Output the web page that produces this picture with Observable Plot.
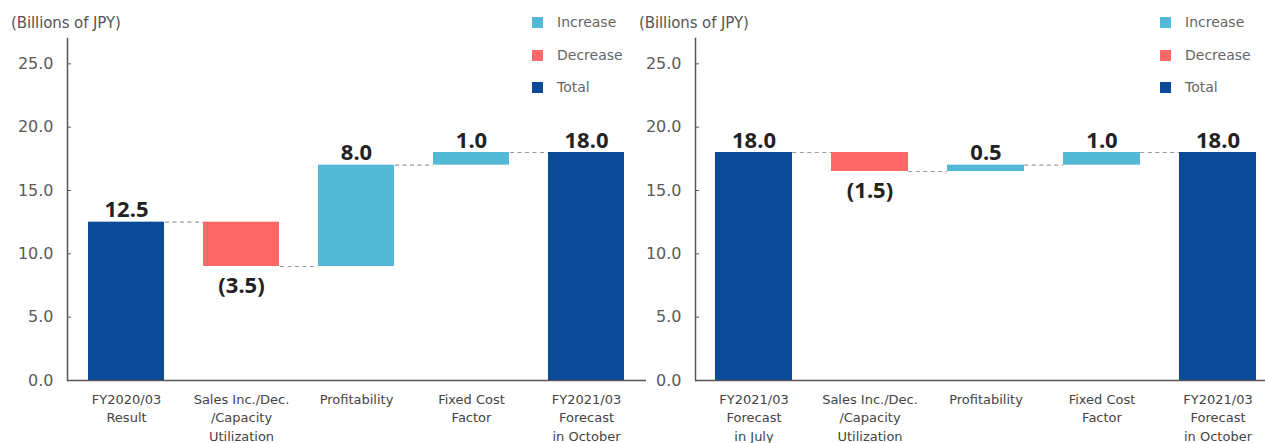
<!DOCTYPE html>
<html>
<head>
<meta charset="utf-8">
<script src="https://cdn.jsdelivr.net/npm/d3@7"></script>
<script src="https://cdn.jsdelivr.net/npm/@observablehq/plot@0.6"></script>
<style>
  html, body { margin: 0; padding: 0; background: #fff; }
  #stage { position: relative; width: 1265px; height: 443px; overflow: hidden; }
  .chart { position: absolute; top: 0; height: 443px; }
  .unit { position: absolute; top: 14px; font: 15px "DejaVu Sans", sans-serif; color: #555; white-space: nowrap; letter-spacing: -0.1px; }
  .legend { position: absolute; top: 0; font: 14px "DejaVu Sans", sans-serif; color: #666; }
  .legend .item { position: absolute; left: 0; display: flex; align-items: center; height: 16px; white-space: nowrap; }
  .legend .sw { width: 11px; height: 11px; margin-right: 14px; }
</style>
</head>
<body>
<div id="stage"></div>
<script>
// Operating income bridge, billions of JPY
const kinds = ["Increase", "Decrease", "Total"];
const kindColors = ["#54b8d7", "#ff6868", "#0a4a96"];
const yTicks = [0, 5, 10, 15, 20, 25];
const unitLabel = "(Billions of JPY)";

// Left: FY2020/03 result to October forecast
const categoriesA = ["FY2020/03\nResult", "Sales Inc./Dec.\n/Capacity\nUtilization", "Profitability", "Fixed Cost\nFactor", "FY2021/03\nForecast\nin October"];
const stepKindsA = ["Total", "Decrease", "Increase", "Increase", "Total"];
const valuesA = [12.5, -3.5, 8.0, 1.0, 18.0];

// Right: July forecast to October forecast
const categoriesB = ["FY2021/03\nForecast\nin July", "Sales Inc./Dec.\n/Capacity\nUtilization", "Profitability", "Fixed Cost\nFactor", "FY2021/03\nForecast\nin October"];
const stepKindsB = ["Total", "Decrease", "Increase", "Increase", "Total"];
const valuesB = [18.0, -1.5, 0.5, 1.0, 18.0];

const fmt = v => v < 0 ? `(${Math.abs(v).toFixed(1)})` : v.toFixed(1);

function buildRows(cats, stepKinds, vals) {
  let run = 0;
  return cats.map((cat, i) => {
    const kind = stepKinds[i], v = vals[i];
    let y1, y2;
    if (kind === "Total") { y1 = 0; y2 = v; run = v; }
    else { y1 = run; y2 = run + v; run += v; }
    return {cat, kind, value: v, y1, y2, end: run, lo: Math.min(y1, y2), hi: Math.max(y1, y2)};
  });
}

function waterfall(cats, stepKinds, vals, width, marginLeft) {
  const rows = buildRows(cats, stepKinds, vals);
  const links = rows.slice(0, -1).map(r => ({cat: r.cat, level: r.end}));
  const xOpts = {domain: cats, paddingInner: 0.336, paddingOuter: 0.164};
  const xs = Plot.scale({x: {type: "band", ...xOpts, range: [marginLeft, width]}});
  const bw = xs.bandwidth, step = xs.step;
  return Plot.plot({
    width, height: 443,
    marginLeft, marginRight: 0, marginTop: 38, marginBottom: 63,
    style: {fontFamily: "DejaVu Sans, sans-serif", background: "transparent", overflow: "visible"},
    x: {...xOpts, label: null},
    y: {domain: [0, 27], label: null},
    color: {domain: kinds, range: kindColors},
    marks: [
      Plot.tickY(links, {x: "cat", y: "level", stroke: "#9a9a9a", strokeWidth: 1.2, strokeDasharray: "4,3.5",
        insetLeft: bw, insetRight: -(step - bw)}),
      Plot.barY(rows, {x: "cat", y1: "y1", y2: "y2", fill: "kind"}),
      Plot.ruleY([0], {stroke: "#555", strokeWidth: 1.5}),
      Plot.frame({anchor: "left", stroke: "#555", strokeWidth: 1.5}),
      Plot.axisY(yTicks, {tickFormat: d3.format(".1f"), tickSize: -4, tickPadding: 18, fontSize: 16, color: "#5a5a5a", label: null}),
      Plot.axisX({tickSize: 0, tickPadding: 10, fontSize: 13, lineHeight: 1.42, color: "#444", label: null}),
      Plot.text(rows.filter(r => r.value >= 0), {x: "cat", y: "hi", text: r => fmt(r.value), lineAnchor: "bottom", dy: -5,
        fontSize: 22, fontWeight: "bold", fontFamily: "Noto Sans", fill: "#222"}),
      Plot.text(rows.filter(r => r.value < 0), {x: "cat", y: "lo", text: r => fmt(r.value), lineAnchor: "top", dy: 11,
        fontSize: 22, fontWeight: "bold", fontFamily: "Noto Sans", fill: "#222"})
    ]
  });
}

// vertical centres of the three legend rows
const legendRowCenters = [22, 55, 87];

function panel(left, width, marginLeft, cats, stepKinds, vals) {
  const wrap = document.createElement("div");
  wrap.className = "chart";
  wrap.style.left = left + "px";
  wrap.style.width = width + "px";
  wrap.appendChild(waterfall(cats, stepKinds, vals, width, marginLeft));
  const unit = document.createElement("div");
  unit.className = "unit";
  unit.style.left = (marginLeft - 56) + "px";
  unit.textContent = unitLabel;
  wrap.appendChild(unit);
  const legend = document.createElement("div");
  legend.className = "legend";
  legend.style.left = (marginLeft + 465) + "px";
  kinds.forEach((k, i) => {
    const item = document.createElement("div");
    item.className = "item";
    item.style.top = (legendRowCenters[i] - 8) + "px";
    const sw = document.createElement("span");
    sw.className = "sw";
    sw.style.background = kindColors[i];
    item.appendChild(sw);
    item.appendChild(document.createTextNode(k));
    legend.appendChild(item);
  });
  wrap.appendChild(legend);
  document.getElementById("stage").appendChild(wrap);
}

panel(0, 646, 67, categoriesA, stepKindsA, valuesA);
panel(646, 630, 49, categoriesB, stepKindsB, valuesB);
</script>
</body>
</html>
